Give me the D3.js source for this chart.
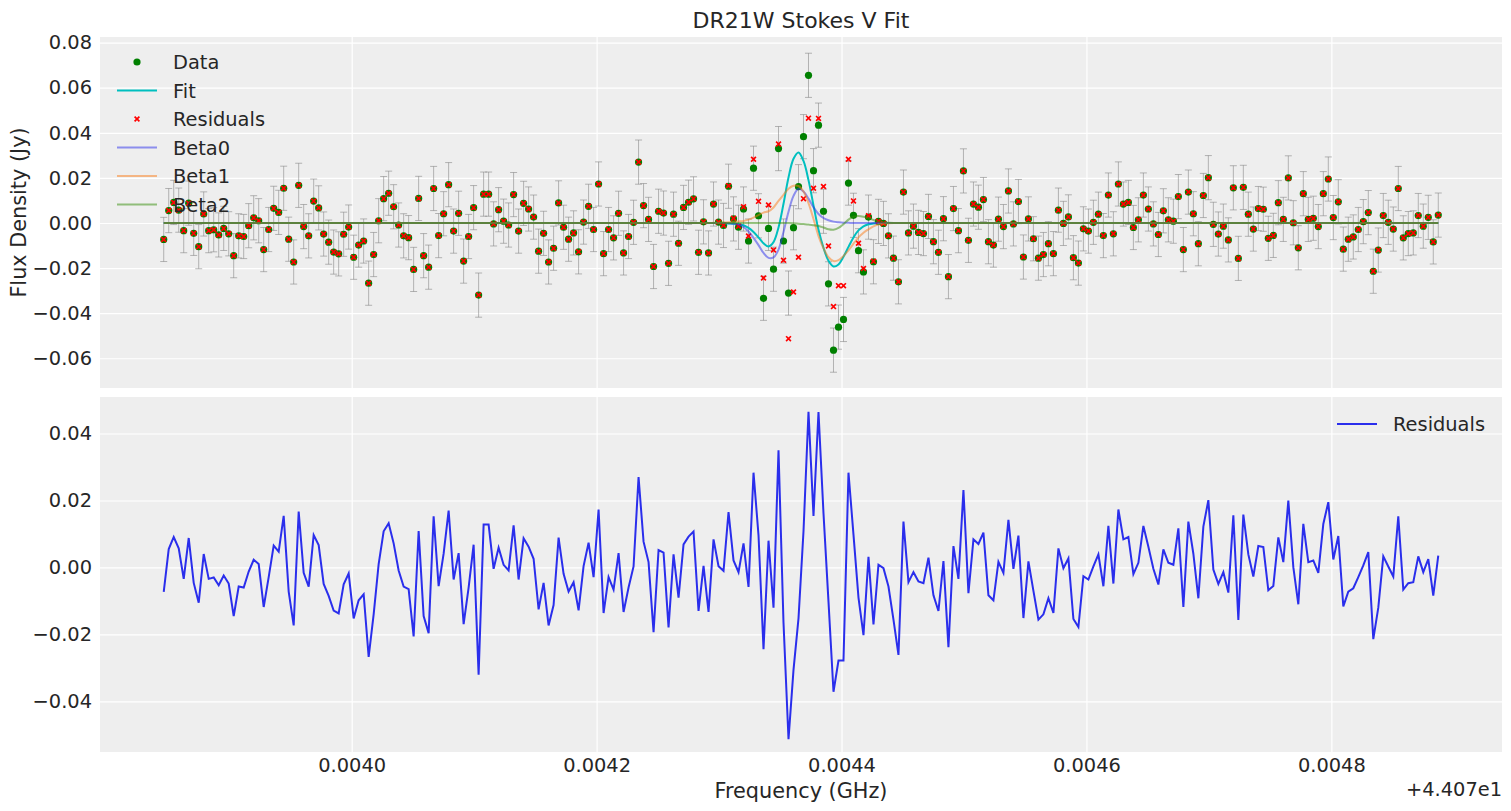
<!DOCTYPE html>
<html>
<head>
<meta charset="utf-8">
<script src="https://cdn.jsdelivr.net/npm/d3@7"></script>
<style>
  body { margin: 0; background: #fff; }
  text { font-family: "DejaVu Sans", sans-serif; fill: #262626; }
</style>
</head>
<body>
<div id="chart"></div>
<script>
// channel grid (GHz) - evenly spaced spectral channels
const freqStart = 44.0738465;
const chanWidth = 4.0816e-6;
const freqOffset = 44.07;

// residuals per channel, in mJy
const residualsMJy = [
  -7.3, 5.5, 9.1, 5.7, -3.4, 8.8, -4.6, -10.5, 4.0, -3.4,
  -3.0, -5.3, -2.4, -4.8, -14.5, -5.7, -6.0, -1.2, 2.3, 1.0,
  -11.8, -2.9, 6.5, 4.7, 15.4, -7.2, -17.3, 16.7, -1.6, -5.7,
  9.7, 6.7, -4.9, -8.5, -12.9, -13.7, -5.0, -1.8, -15.2, -9.8,
  -8.0, -26.7, -14.0, 1.0, 10.8, 13.2, 7.2, -0.9, -5.7, -6.5,
  -20.6, 10.9, -14.5, -19.6, 15.3, -5.6, 4.1, 17.0, -3.6, 4.3,
  -16.9, -6.0, 6.8, -32.0, 12.8, 12.8, -0.4, 5.9, 0.8, -0.9,
  12.6, -3.6, 8.7, 6.2, 2.6, -12.5, -4.6, -17.3, -11.2, 8.9,
  -1.9, -7.2, -4.4, -12.8, 0.4, 7.4, -2.9, 17.3, -13.6, -2.9,
  -6.6, 4.3, -13.3, -6.0, 0.3, 27.0, 7.7, 1.6, -19.3, 5.2,
  4.4, -17.9, 3.9, -9.0, 6.9, 9.2, 10.7, -13.0, 0.5, -13.3,
  8.4, 0.4, -1.0, 16.5, 2.1, -1.4, 7.2, -5.8, 28.3, 9.6,
  -24.4, 8.0, -12.0, 35.0, -16.5, -51.3, -30.6, -15.2, 10.8, 46.5,
  15.4, 46.4, 16.2, -10.2, -37.1, -27.8, -27.8, 28.3, 9.8, -9.0,
  -20.2, 3.2, -17.0, 0.8, -0.2, -5.7, -15.6, -26.1, 13.7, -4.4,
  -1.4, -4.2, -4.7, 2.9, -8.3, -13.0, 1.9, -23.8, 6.4, -3.4,
  23.1, -7.7, 8.4, 7.0, 10.4, -8.3, -9.8, 1.7, -1.6, 14.2,
  -0.4, 9.5, -15.1, 1.8, -7.0, -15.6, -14.0, -9.2, -13.6, 5.7,
  -0.2, 2.7, -15.4, -17.8, -2.6, -3.6, 0.3, 3.9, -5.6, 12.4,
  -4.8, 17.3, 8.4, 9.1, -2.0, 1.4, 12.4, 6.2, -0.4, -5.1,
  5.4, 1.4, 0.8, 11.7, -11.8, 13.7, 4.1, -9.2, 12.2, 20.1,
  -0.6, -4.9, -1.4, -7.5, 15.6, -15.7, 15.8, 3.9, -2.7, 6.4,
  6.1, -6.8, -5.5, 9.0, 1.6, 20.0, 0.1, -11.0, 13.0, 1.6,
  2.1, -1.6, 13.0, 19.5, 2.4, 9.4, -11.6, -7.2, -6.2, -2.9,
  0.6, 4.6, -21.4, -12.0, 3.3, 0.3, -2.7, 15.3, -6.6, -4.7,
  -4.4, 3.3, -1.4, 2.5, -8.4, 3.5
];

// the line model is zero outside channels lineStart .. lineStart+35
const lineStart = 110;
const fitMJy = [
  0, 0, -0.1, -0.2, -0.3, -0.5, -1.0, -2.2, -4.0, -6.4,
  -9.0, -10.4, -8.5, -2.0, 8.5, 20.2, 28.5, 31.3, 27.5, 19.0,
  7.8, -3.0, -11.0, -16.8, -19.3, -18.4, -15.0, -10.6, -6.4, -3.3,
  -1.5, -0.6, -0.2, -0.1, 0, 0
];
const beta0MJy = [
  0, 0, -0.05, -0.1, -0.3, -0.7, -1.8, -3.8, -6.6, -9.8,
  -13.3, -15.5, -15.3, -11.8, -4.0, 5.0, 12.0, 15.2, 14.0, 10.8,
  7.0, 4.0, 2.2, 1.2, 0.6, 0.3, 0.1, 0.05, 0, 0,
  0, 0, 0, 0, 0, 0
];
const beta1MJy = [
  0.05, 0.1, 0.2, 0.3, 0.5, 0.7, 0.9, 1.5, 2.4, 3.5,
  4.6, 5.2, 6.9, 9.8, 12.5, 15.2, 16.5, 16.4, 14.0, 8.8,
  1.8, -5.8, -11.2, -15.2, -16.9, -16.5, -14.6, -12.2, -9.2, -6.4,
  -4.3, -2.8, -1.5, -0.7, -0.3, -0.1
];
const beta2MJy = [
  0, 0, 0, 0, 0, 0, 0, 0, 0, 0,
  0, 0, 0, 0, 0, 0, -0.1, -0.3, -0.5, -0.7,
  -1.0, -1.3, -2.0, -2.8, -3.0, -2.2, -0.5, 1.5, 2.8, 3.1,
  2.8, 2.2, 1.3, 0.6, 0.2, 0.05
];
const fluxErr = 0.0098; // Jy, per-channel noise

const xTickOffsets = [0.0040, 0.0042, 0.0044, 0.0046, 0.0048];
const yTicksTop = [-0.06, -0.04, -0.02, 0.00, 0.02, 0.04, 0.06, 0.08];
const yTicksBottom = [-0.04, -0.02, 0.00, 0.02, 0.04];

// build per-channel series
const freqs = residualsMJy.map((_, i) => freqStart + i * chanWidth);
const model = arr => freqs.map((f, i) => {
  const j = i - lineStart;
  return (j >= 0 && j < arr.length) ? arr[j] / 1000 : 0;
});
const fit = model(fitMJy);
const beta0 = model(beta0MJy);
const beta1 = model(beta1MJy);
const beta2 = model(beta2MJy);
const resid = residualsMJy.map(v => v / 1000);
const data = resid.map((r, i) => r + fit[i]);

const W = 1511, H = 811;
const left = 100, right = 1502;
const top1 = 37, bot1 = 388;
const top2 = 397, bot2 = 752;

const svg = d3.select("#chart").append("svg")
  .attr("width", W).attr("height", H);

const span = freqs[freqs.length - 1] - freqs[0];
const x = d3.scaleLinear()
  .domain([freqs[0] - 0.05 * span, freqs[freqs.length - 1] + 0.05 * span])
  .range([left, right]);
const yTop = d3.scaleLinear().domain([-0.0732, 0.0825]).range([bot1, top1]);
const yBot = d3.scaleLinear().domain([-0.0551, 0.0509]).range([bot2, top2]);

const xTickVals = xTickOffsets.map(o => freqOffset + o);
const fmtY = d3.format(".2f");

function panel(y0, y1, yScale, yTicks, showX) {
  const g = svg.append("g");
  g.append("rect").attr("x", left).attr("y", y0)
    .attr("width", right - left).attr("height", y1 - y0).attr("fill", "#eeeeee");

  const xa = g.append("g").attr("transform", `translate(0,${y1})`)
    .call(d3.axisBottom(x).tickValues(xTickVals).tickSize(-(y1 - y0)).tickPadding(6)
      .tickFormat(showX ? (d => (d - freqOffset).toFixed(4)) : () => ""));
  const ya = g.append("g").attr("transform", `translate(${left},0)`)
    .call(d3.axisLeft(yScale).tickValues(yTicks).tickSize(-(right - left)).tickPadding(8)
      .tickFormat(fmtY));
  [xa, ya].forEach(a => {
    a.select(".domain").remove();
    a.selectAll(".tick line").attr("stroke", "#ffffff").attr("stroke-width", 1.2);
    a.selectAll(".tick text").attr("font-size", 19.4).attr("fill", "#262626")
      .attr("font-family", "DejaVu Sans, sans-serif");
  });
  return g;
}

panel(top1, bot1, yTop, yTicksTop, false);
panel(top2, bot2, yBot, yTicksBottom, true);

// ---- top panel marks
const gTop = svg.append("g");
const capW = 3.5;
const eb = gTop.append("g").attr("stroke", "#808080").attr("stroke-opacity", 0.55).attr("stroke-width", 1);
data.forEach((d, i) => {
  const cx = x(freqs[i]), yh = yTop(d + fluxErr), yl = yTop(d - fluxErr);
  eb.append("line").attr("x1", cx).attr("x2", cx).attr("y1", yh).attr("y2", yl);
  eb.append("line").attr("x1", cx - capW).attr("x2", cx + capW).attr("y1", yh).attr("y2", yh);
  eb.append("line").attr("x1", cx - capW).attr("x2", cx + capW).attr("y1", yl).attr("y2", yl);
});

gTop.append("g").selectAll("circle").data(data).join("circle")
  .attr("cx", (d, i) => x(freqs[i])).attr("cy", d => yTop(d))
  .attr("r", 3.6).attr("fill", "#008000");

const lineTop = vals => d3.line()
  .x((d, i) => x(freqs[i])).y(d => yTop(d))
  .curve(d3.curveCatmullRom)(vals);

gTop.append("path").attr("d", lineTop(fit)).attr("fill", "none")
  .attr("stroke", "#00bfbf").attr("stroke-width", 2);

const xSize = 2.4;
const xm = gTop.append("g").attr("stroke", "#ff0000").attr("stroke-width", 1.7);
resid.forEach((r, i) => {
  const cx = x(freqs[i]), cy = yTop(r);
  xm.append("path").attr("d", `M${cx - xSize},${cy - xSize}L${cx + xSize},${cy + xSize}M${cx - xSize},${cy + xSize}L${cx + xSize},${cy - xSize}`);
});

const betaColors = ["#2a2eec", "#fa7c17", "#328c06"];
[beta0, beta1, beta2].forEach((b, k) => {
  gTop.append("path").attr("d", lineTop(b)).attr("fill", "none")
    .attr("stroke", betaColors[k]).attr("stroke-opacity", 0.5).attr("stroke-width", 2);
});

// ---- bottom panel
svg.append("path")
  .attr("d", d3.line().x((d, i) => x(freqs[i])).y(d => yBot(d))(resid))
  .attr("fill", "none").attr("stroke", "#2a2eec").attr("stroke-width", 2);

// ---- legends
const lg = svg.append("g").attr("font-size", 19.4);
const legendItems = [
  { label: "Data", type: "dot", color: "#008000" },
  { label: "Fit", type: "line", color: "#00bfbf", op: 1 },
  { label: "Residuals", type: "x", color: "#ff0000" },
  { label: "Beta0", type: "line", color: betaColors[0], op: 0.5 },
  { label: "Beta1", type: "line", color: betaColors[1], op: 0.5 },
  { label: "Beta2", type: "line", color: betaColors[2], op: 0.5 }
];
legendItems.forEach((it, i) => {
  const cy = 62 + i * 28.5;
  if (it.type === "dot") {
    lg.append("circle").attr("cx", 137).attr("cy", cy).attr("r", 3.6).attr("fill", it.color);
  } else if (it.type === "line") {
    lg.append("line").attr("x1", 117).attr("x2", 157).attr("y1", cy).attr("y2", cy)
      .attr("stroke", it.color).attr("stroke-opacity", it.op).attr("stroke-width", 2);
  } else {
    lg.append("path").attr("d", `M${137 - xSize},${cy - xSize}L${137 + xSize},${cy + xSize}M${137 - xSize},${cy + xSize}L${137 + xSize},${cy - xSize}`)
      .attr("stroke", it.color).attr("stroke-width", 1.7);
  }
  lg.append("text").attr("x", 173).attr("y", cy + 7).text(it.label);
});

lg.append("line").attr("x1", 1337).attr("x2", 1377).attr("y1", 424).attr("y2", 424)
  .attr("stroke", "#2a2eec").attr("stroke-width", 2);
lg.append("text").attr("x", 1393).attr("y", 431).text("Residuals");

// ---- titles & labels
svg.append("text").attr("x", (left + right) / 2).attr("y", 28)
  .attr("text-anchor", "middle").attr("font-size", 22).text("DR21W Stokes V Fit");
svg.append("text").attr("x", (left + right) / 2).attr("y", 798)
  .attr("text-anchor", "middle").attr("font-size", 20.8).text("Frequency (GHz)");
svg.append("text").attr("x", right).attr("y", 796)
  .attr("text-anchor", "end").attr("font-size", 19.4).text("+4.407e1");
svg.append("text").attr("transform", `translate(26,${(top1 + bot1) / 2}) rotate(-90)`)
  .attr("text-anchor", "middle").attr("font-size", 20.8).text("Flux Density (Jy)");
</script>
</body>
</html>
